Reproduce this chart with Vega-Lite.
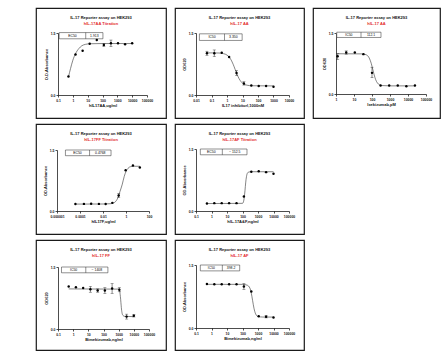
{
  "$schema": "https://vega.github.io/schema/vega-lite/v6.json",
  "background": "white",
  "padding": {"left": 35, "top": 7, "right": 4, "bottom": 4},
  "config": {
    "font": "Liberation Sans",
    "view": {"stroke": "#1a1a1a", "strokeWidth": 1.2, "fill": "white"},
    "axis": {"grid": false, "domainColor": "#000", "domainWidth": 0.7, "tickColor": "#000", "tickWidth": 0.7, "tickSize": 2, "labelFontSize": 3.4, "labelFontWeight": "bold", "labelColor": "#111", "labelPadding": 1, "titleFontSize": 4, "titleFontWeight": "bold", "titleColor": "#111", "titlePadding": 2, "labelFlush": false, "labelOverlap": false},
    "title": {"fontSize": 4, "subtitleFontSize": 4, "fontWeight": "bold", "subtitleFontWeight": "bold", "color": "#111", "subtitleColor": "#e32b2b", "anchor": "middle", "frame": "group", "offset": -18, "subtitlePadding": 2.5},
    "text": {"fontSize": 3.4, "font": "Liberation Sans"}
  },
  "vconcat": [
    {"hconcat": [
      {"width": 130, "height": 110,
       "title": {"text": "IL-17 Reporter assay on HEK293", "subtitle": "hIL-17AA Titration"},
       "layer": [
        {"data": {"values": [{}]}, "mark": {"type": "rect", "fill": "white", "stroke": "#222", "strokeWidth": 0.5}, "encoding": {"x": {"datum": 0.12, "type": "quantitative"}, "x2": {"datum": 107}, "y": {"datum": 1.36, "type": "quantitative"}, "y2": {"datum": 1.51}}},
        {"data": {"values": [{}]}, "mark": {"type": "rule", "stroke": "#222", "strokeWidth": 0.5}, "encoding": {"x": {"datum": 7.4, "type": "quantitative"}, "y": {"datum": 1.36, "type": "quantitative"}, "y2": {"datum": 1.51}}},
        {"data": {"values": [{}]}, "mark": {"type": "text", "text": "EC50", "baseline": "middle"}, "encoding": {"x": {"datum": 0.94, "type": "quantitative"}, "y": {"datum": 1.435, "type": "quantitative"}}},
        {"data": {"values": [{}]}, "mark": {"type": "text", "text": "1.913", "baseline": "middle"}, "encoding": {"x": {"datum": 28, "type": "quantitative"}, "y": {"datum": 1.435, "type": "quantitative"}}},
        {"data": {"values": [{"x":0.508,"y":0.44},{"x":0.7,"y":0.64},{"x":1,"y":0.84},{"x":1.52,"y":1.0},{"x":2.5,"y":1.12},{"x":4,"y":1.19},{"x":7,"y":1.225},{"x":15,"y":1.24},{"x":100,"y":1.245},{"x":10000,"y":1.245}]},
         "mark": {"type": "line", "color": "#333", "strokeWidth": 0.6, "interpolate": "monotone"}, "encoding": {"x": {"field": "x", "type": "quantitative"}, "y": {"field": "y", "type": "quantitative"}}},
        {"data": {"values": [{"x":123,"lo":1.18,"hi":1.24},{"x":370,"lo":1.17,"hi":1.33}]},
         "layer": [
          {"mark": {"type": "rule", "color": "#111", "strokeWidth": 0.5}, "encoding": {"x": {"field": "x", "type": "quantitative"}, "y": {"field": "lo", "type": "quantitative"}, "y2": {"field": "hi"}}},
          {"mark": {"type": "tick", "orient": "horizontal", "size": 3, "thickness": 0.5, "color": "#111"}, "encoding": {"x": {"field": "x", "type": "quantitative"}, "y": {"field": "lo", "type": "quantitative"}}},
          {"mark": {"type": "tick", "orient": "horizontal", "size": 3, "thickness": 0.5, "color": "#111"}, "encoding": {"x": {"field": "x", "type": "quantitative"}, "y": {"field": "hi", "type": "quantitative"}}}
         ]},
        {"data": {"values": [{"x":0.508,"y":0.45},{"x":1.52,"y":0.98},{"x":4.57,"y":1.07},{"x":13.7,"y":1.24},{"x":41.2,"y":1.33},{"x":123,"y":1.21},{"x":370,"y":1.25},{"x":1111,"y":1.25},{"x":3333,"y":1.23},{"x":10000,"y":1.25}]},
         "mark": {"type": "circle", "color": "#000", "size": 6, "opacity": 1},
         "encoding": {
          "x": {"field": "x", "type": "quantitative", "scale": {"type": "log", "domain": [0.1, 100000], "range": [22, 111], "nice": false}, "axis": {"values": [0.1,1,10,100,1000,10000,100000], "format": ".6~f", "title": "hIL17AA,ug/ml", "offset": -23}},
          "y": {"field": "y", "type": "quantitative", "scale": {"domain": [0, 1.5], "range": [87, 25], "nice": false, "zero": false}, "axis": {"values": [0,0.5,1,1.5], "format": ".1f", "title": "O.D.Absorbance", "offset": -22}}}}
       ]},
      {"width": 129, "height": 110,
       "title": {"text": "IL-17 Reporter assay on HEK293", "subtitle": "hIL-17 AA"},
       "layer": [
        {"data": {"values": [{}]}, "mark": {"type": "rect", "fill": "white", "stroke": "#222", "strokeWidth": 0.5}, "encoding": {"x": {"datum": 0.0166, "type": "quantitative"}, "x2": {"datum": 9.5}, "y": {"datum": 1.32, "type": "quantitative"}, "y2": {"datum": 1.48}}},
        {"data": {"values": [{}]}, "mark": {"type": "rule", "stroke": "#222", "strokeWidth": 0.5}, "encoding": {"x": {"datum": 0.69, "type": "quantitative"}, "y": {"datum": 1.32, "type": "quantitative"}, "y2": {"datum": 1.48}}},
        {"data": {"values": [{}]}, "mark": {"type": "text", "text": "IC50", "baseline": "middle"}, "encoding": {"x": {"datum": 0.107, "type": "quantitative"}, "y": {"datum": 1.4, "type": "quantitative"}}},
        {"data": {"values": [{}]}, "mark": {"type": "text", "text": "3.350", "baseline": "middle"}, "encoding": {"x": {"datum": 2.56, "type": "quantitative"}, "y": {"datum": 1.4, "type": "quantitative"}}},
        {"data": {"values": [{"x":0.0508,"y":1.02},{"x":0.3,"y":1.016},{"x":0.6,"y":1.0},{"x":1,"y":0.966},{"x":1.5,"y":0.9},{"x":2,"y":0.823},{"x":2.5,"y":0.743},{"x":3.35,"y":0.62},{"x":4,"y":0.544},{"x":5,"y":0.456},{"x":6,"y":0.396},{"x":8,"y":0.325},{"x":10,"y":0.288},{"x":15,"y":0.25},{"x":20,"y":0.236},{"x":40,"y":0.224},{"x":1000,"y":0.22}]},
         "mark": {"type": "line", "color": "#333", "strokeWidth": 0.6, "interpolate": "monotone"}, "encoding": {"x": {"field": "x", "type": "quantitative"}, "y": {"field": "y", "type": "quantitative"}}},
        {"data": {"values": [{"x":0.0508,"lo":0.96,"hi":1.06},{"x":0.152,"lo":0.93,"hi":1.09},{"x":4.12,"lo":0.47,"hi":0.59},{"x":12.3,"lo":0.24,"hi":0.32}]},
         "layer": [
          {"mark": {"type": "rule", "color": "#111", "strokeWidth": 0.5}, "encoding": {"x": {"field": "x", "type": "quantitative"}, "y": {"field": "lo", "type": "quantitative"}, "y2": {"field": "hi"}}},
          {"mark": {"type": "tick", "orient": "horizontal", "size": 3, "thickness": 0.5, "color": "#111"}, "encoding": {"x": {"field": "x", "type": "quantitative"}, "y": {"field": "lo", "type": "quantitative"}}},
          {"mark": {"type": "tick", "orient": "horizontal", "size": 3, "thickness": 0.5, "color": "#111"}, "encoding": {"x": {"field": "x", "type": "quantitative"}, "y": {"field": "hi", "type": "quantitative"}}}
         ]},
        {"data": {"values": [{"x":0.0508,"y":1.01},{"x":0.152,"y":1.01},{"x":0.457,"y":1.02},{"x":1.37,"y":0.92},{"x":4.12,"y":0.53},{"x":12.3,"y":0.28},{"x":37,"y":0.23},{"x":111,"y":0.22},{"x":333,"y":0.22},{"x":1000,"y":0.2}]},
         "mark": {"type": "circle", "color": "#000", "size": 6, "opacity": 1},
         "encoding": {
          "x": {"field": "x", "type": "quantitative", "scale": {"type": "log", "domain": [0.01, 10000], "range": [21, 114], "nice": false}, "axis": {"values": [0.01,0.1,1,10,100,1000,10000], "format": ".6~f", "title": "IL17 inhibitorl,1000nM", "offset": -23}},
          "y": {"field": "y", "type": "quantitative", "scale": {"domain": [0, 1.5], "range": [87, 25], "nice": false, "zero": false}, "axis": {"values": [0,0.5,1,1.5], "format": ".1f", "title": "OD620", "offset": -21}}}}
       ]},
      {"width": 127, "height": 110,
       "title": {"text": "IL-17 Reporter assay on HEK293", "subtitle": "hIL-17 AA"},
       "layer": [
        {"data": {"values": [{}]}, "mark": {"type": "rect", "fill": "white", "stroke": "#222", "strokeWidth": 0.5}, "encoding": {"x": {"datum": 1.1, "type": "quantitative"}, "x2": {"datum": 316}, "y": {"datum": 1.39, "type": "quantitative"}, "y2": {"datum": 1.52}}},
        {"data": {"values": [{}]}, "mark": {"type": "rule", "stroke": "#222", "strokeWidth": 0.5}, "encoding": {"x": {"datum": 24.5, "type": "quantitative"}, "y": {"datum": 1.39, "type": "quantitative"}, "y2": {"datum": 1.52}}},
        {"data": {"values": [{}]}, "mark": {"type": "text", "text": "IC50", "baseline": "middle"}, "encoding": {"x": {"datum": 5.2, "type": "quantitative"}, "y": {"datum": 1.455, "type": "quantitative"}}},
        {"data": {"values": [{}]}, "mark": {"type": "text", "text": "112.1", "baseline": "middle"}, "encoding": {"x": {"datum": 88, "type": "quantitative"}, "y": {"datum": 1.455, "type": "quantitative"}}},
        {"data": {"values": [{"x":1.23,"y":0.99},{"x":30,"y":0.986},{"x":50,"y":0.96},{"x":70,"y":0.886},{"x":90,"y":0.758},{"x":112,"y":0.595},{"x":130,"y":0.481},{"x":160,"y":0.353},{"x":200,"y":0.271},{"x":250,"y":0.231},{"x":350,"y":0.208},{"x":1000,"y":0.2},{"x":24300,"y":0.2}]},
         "mark": {"type": "line", "color": "#333", "strokeWidth": 0.6, "interpolate": "monotone"}, "encoding": {"x": {"field": "x", "type": "quantitative"}, "y": {"field": "y", "type": "quantitative"}}},
        {"data": {"values": [{"x":1.23,"lo":0.85,"hi":1.0},{"x":3.7,"lo":0.98,"hi":1.06},{"x":100,"lo":0.4,"hi":0.66}]},
         "layer": [
          {"mark": {"type": "rule", "color": "#111", "strokeWidth": 0.5}, "encoding": {"x": {"field": "x", "type": "quantitative"}, "y": {"field": "lo", "type": "quantitative"}, "y2": {"field": "hi"}}},
          {"mark": {"type": "tick", "orient": "horizontal", "size": 3, "thickness": 0.5, "color": "#111"}, "encoding": {"x": {"field": "x", "type": "quantitative"}, "y": {"field": "lo", "type": "quantitative"}}},
          {"mark": {"type": "tick", "orient": "horizontal", "size": 3, "thickness": 0.5, "color": "#111"}, "encoding": {"x": {"field": "x", "type": "quantitative"}, "y": {"field": "hi", "type": "quantitative"}}}
         ]},
        {"data": {"values": [{"x":1.23,"y":0.93},{"x":3.7,"y":1.02},{"x":11.1,"y":1.02},{"x":33.3,"y":0.98},{"x":100,"y":0.52},{"x":300,"y":0.21},{"x":900,"y":0.21},{"x":2700,"y":0.21},{"x":8100,"y":0.19},{"x":24300,"y":0.21}]},
         "mark": {"type": "circle", "color": "#000", "size": 6, "opacity": 1},
         "encoding": {
          "x": {"field": "x", "type": "quantitative", "scale": {"type": "log", "domain": [1, 100000], "range": [23, 113], "nice": false}, "axis": {"values": [1,10,100,1000,10000,100000], "format": ".6~f", "title": "Ixekizumab,pM", "offset": -24}},
          "y": {"field": "y", "type": "quantitative", "scale": {"domain": [0, 1.5], "range": [86, 25], "nice": false, "zero": false}, "axis": {"values": [0,0.5,1,1.5], "format": ".1f", "title": "OD620", "offset": -23}}}}
       ]}
    ], "spacing": 7},
    {"hconcat": [
      {"width": 130, "height": 110,
       "title": {"text": "IL-17 Reporter assay on HEK293", "subtitle": "hIL-17FF Titration"},
       "layer": [
        {"data": {"values": [{}]}, "mark": {"type": "rect", "fill": "white", "stroke": "#222", "strokeWidth": 0.5}, "encoding": {"x": {"datum": 0.0000054, "type": "quantitative"}, "x2": {"datum": 0.05}, "y": {"datum": 1.36, "type": "quantitative"}, "y2": {"datum": 1.5}}},
        {"data": {"values": [{}]}, "mark": {"type": "rule", "stroke": "#222", "strokeWidth": 0.5}, "encoding": {"x": {"datum": 0.00068, "type": "quantitative"}, "y": {"datum": 1.36, "type": "quantitative"}, "y2": {"datum": 1.5}}},
        {"data": {"values": [{}]}, "mark": {"type": "text", "text": "EC50", "baseline": "middle"}, "encoding": {"x": {"datum": 0.0000606, "type": "quantitative"}, "y": {"datum": 1.43, "type": "quantitative"}}},
        {"data": {"values": [{}]}, "mark": {"type": "text", "text": "0.4768", "baseline": "middle"}, "encoding": {"x": {"datum": 0.00583, "type": "quantitative"}, "y": {"datum": 1.43, "type": "quantitative"}}},
        {"data": {"values": [{"x":0.00004,"y":0.17},{"x":0.01,"y":0.172},{"x":0.05,"y":0.18},{"x":0.1,"y":0.21},{"x":0.2,"y":0.33},{"x":0.3,"y":0.48},{"x":0.4768,"y":0.66},{"x":0.7,"y":0.85},{"x":1,"y":0.97},{"x":1.5,"y":1.05},{"x":2.5,"y":1.09},{"x":5,"y":1.1},{"x":16,"y":1.1}]},
         "mark": {"type": "line", "color": "#333", "strokeWidth": 0.6, "interpolate": "monotone"}, "encoding": {"x": {"field": "x", "type": "quantitative"}, "y": {"field": "y", "type": "quantitative"}}},
        {"data": {"values": [{"x":0.23,"lo":0.33,"hi":0.43}]},
         "layer": [
          {"mark": {"type": "rule", "color": "#111", "strokeWidth": 0.5}, "encoding": {"x": {"field": "x", "type": "quantitative"}, "y": {"field": "lo", "type": "quantitative"}, "y2": {"field": "hi"}}},
          {"mark": {"type": "tick", "orient": "horizontal", "size": 3, "thickness": 0.5, "color": "#111"}, "encoding": {"x": {"field": "x", "type": "quantitative"}, "y": {"field": "lo", "type": "quantitative"}}},
          {"mark": {"type": "tick", "orient": "horizontal", "size": 3, "thickness": 0.5, "color": "#111"}, "encoding": {"x": {"field": "x", "type": "quantitative"}, "y": {"field": "hi", "type": "quantitative"}}}
         ]},
        {"data": {"values": [{"x":0.00004,"y":0.17},{"x":0.00022,"y":0.175},{"x":0.00093,"y":0.18},{"x":0.0044,"y":0.175},{"x":0.017,"y":0.17},{"x":0.065,"y":0.2},{"x":0.23,"y":0.38},{"x":0.93,"y":1.0},{"x":4,"y":1.12},{"x":16,"y":1.07}]},
         "mark": {"type": "circle", "color": "#000", "size": 6, "opacity": 1},
         "encoding": {
          "x": {"field": "x", "type": "quantitative", "scale": {"type": "log", "domain": [0.000001, 100], "range": [21, 113], "nice": false}, "axis": {"values": [0.000001,0.0001,0.01,1,100], "format": ".6~f", "title": "hIL17F,ug/ml", "offset": -23}},
          "y": {"field": "y", "type": "quantitative", "scale": {"domain": [0, 1.5], "range": [87, 26], "nice": false, "zero": false}, "axis": {"values": [0,0.5,1,1.5], "format": ".1f", "title": "OD.Absorbance", "offset": -21}}}}
       ]},
      {"width": 129, "height": 110,
       "title": {"text": "IL-17 Reporter assay on HEK293", "subtitle": "hIL-17AF Titration"},
       "layer": [
        {"data": {"values": [{}]}, "mark": {"type": "rect", "fill": "white", "stroke": "#222", "strokeWidth": 0.5}, "encoding": {"x": {"datum": 0.19, "type": "quantitative"}, "x2": {"datum": 195}, "y": {"datum": 1.36, "type": "quantitative"}, "y2": {"datum": 1.5}}},
        {"data": {"values": [{}]}, "mark": {"type": "rule", "stroke": "#222", "strokeWidth": 0.5}, "encoding": {"x": {"datum": 5, "type": "quantitative"}, "y": {"datum": 1.36, "type": "quantitative"}, "y2": {"datum": 1.5}}},
        {"data": {"values": [{}]}, "mark": {"type": "text", "text": "EC50", "baseline": "middle"}, "encoding": {"x": {"datum": 0.975, "type": "quantitative"}, "y": {"datum": 1.43, "type": "quantitative"}}},
        {"data": {"values": [{}]}, "mark": {"type": "text", "text": "~ 152.5", "baseline": "middle"}, "encoding": {"x": {"datum": 31.2, "type": "quantitative"}, "y": {"datum": 1.43, "type": "quantitative"}}},
        {"data": {"values": [{"x":0.508,"y":0.18},{"x":100,"y":0.185},{"x":115,"y":0.22},{"x":130,"y":0.33},{"x":145,"y":0.5},{"x":160,"y":0.68},{"x":180,"y":0.83},{"x":210,"y":0.92},{"x":260,"y":0.945},{"x":400,"y":0.95},{"x":10000,"y":0.95}]},
         "mark": {"type": "line", "color": "#333", "strokeWidth": 0.6, "interpolate": "monotone"}, "encoding": {"x": {"field": "x", "type": "quantitative"}, "y": {"field": "y", "type": "quantitative"}}},
        {"data": {"values": [{"x":0.508,"y":0.18},{"x":1.52,"y":0.19},{"x":4.57,"y":0.19},{"x":13.7,"y":0.19},{"x":41.2,"y":0.19},{"x":123,"y":0.35},{"x":370,"y":0.95},{"x":1111,"y":0.96},{"x":3333,"y":0.94},{"x":10000,"y":0.9}]},
         "mark": {"type": "circle", "color": "#000", "size": 6, "opacity": 1},
         "encoding": {
          "x": {"field": "x", "type": "quantitative", "scale": {"type": "log", "domain": [0.1, 100000], "range": [21, 114], "nice": false}, "axis": {"values": [0.1,1,10,100,1000,10000,100000], "format": ".6~f", "title": "hIL-17A&F,ng/ml", "offset": -23}},
          "y": {"field": "y", "type": "quantitative", "scale": {"domain": [0, 1.5], "range": [87, 25], "nice": false, "zero": false}, "axis": {"values": [0,0.5,1,1.5], "format": ".1f", "title": "OD.Absorbance", "offset": -21}}}}
       ]}
    ], "spacing": 7},
    {"hconcat": [
      {"width": 130, "height": 110,
       "title": {"text": "IL-17 Reporter assay on HEK293", "subtitle": "hIL-17 FF"},
       "layer": [
        {"data": {"values": [{}]}, "mark": {"type": "rect", "fill": "white", "stroke": "#222", "strokeWidth": 0.5}, "encoding": {"x": {"datum": 0.17, "type": "quantitative"}, "x2": {"datum": 195}, "y": {"datum": 1.36, "type": "quantitative"}, "y2": {"datum": 1.5}}},
        {"data": {"values": [{}]}, "mark": {"type": "rule", "stroke": "#222", "strokeWidth": 0.5}, "encoding": {"x": {"datum": 6.8, "type": "quantitative"}, "y": {"datum": 1.36, "type": "quantitative"}, "y2": {"datum": 1.5}}},
        {"data": {"values": [{}]}, "mark": {"type": "text", "text": "IC50", "baseline": "middle"}, "encoding": {"x": {"datum": 1.08, "type": "quantitative"}, "y": {"datum": 1.43, "type": "quantitative"}}},
        {"data": {"values": [{}]}, "mark": {"type": "text", "text": "~ 1408", "baseline": "middle"}, "encoding": {"x": {"datum": 36.4, "type": "quantitative"}, "y": {"datum": 1.43, "type": "quantitative"}}},
        {"data": {"values": [{"x":0.508,"y":0.97},{"x":1000,"y":0.965},{"x":1150,"y":0.93},{"x":1250,"y":0.84},{"x":1350,"y":0.72},{"x":1408,"y":0.64},{"x":1500,"y":0.52},{"x":1650,"y":0.4},{"x":1900,"y":0.33},{"x":2500,"y":0.305},{"x":10000,"y":0.3}]},
         "mark": {"type": "line", "color": "#333", "strokeWidth": 0.6, "interpolate": "monotone"}, "encoding": {"x": {"field": "x", "type": "quantitative"}, "y": {"field": "y", "type": "quantitative"}}},
        {"data": {"values": [{"x":13.7,"lo":0.89,"hi":1.03},{"x":41.2,"lo":0.89,"hi":0.97},{"x":123,"lo":0.86,"hi":1.0},{"x":370,"lo":0.86,"hi":1.1},{"x":1111,"lo":0.9,"hi":1.0},{"x":3333,"lo":0.24,"hi":0.36},{"x":10000,"lo":0.29,"hi":0.35}]},
         "layer": [
          {"mark": {"type": "rule", "color": "#111", "strokeWidth": 0.5}, "encoding": {"x": {"field": "x", "type": "quantitative"}, "y": {"field": "lo", "type": "quantitative"}, "y2": {"field": "hi"}}},
          {"mark": {"type": "tick", "orient": "horizontal", "size": 3, "thickness": 0.5, "color": "#111"}, "encoding": {"x": {"field": "x", "type": "quantitative"}, "y": {"field": "lo", "type": "quantitative"}}},
          {"mark": {"type": "tick", "orient": "horizontal", "size": 3, "thickness": 0.5, "color": "#111"}, "encoding": {"x": {"field": "x", "type": "quantitative"}, "y": {"field": "hi", "type": "quantitative"}}}
         ]},
        {"data": {"values": [{"x":0.508,"y":1.03},{"x":1.52,"y":1.01},{"x":4.57,"y":0.99},{"x":13.7,"y":0.96},{"x":41.2,"y":0.93},{"x":123,"y":0.93},{"x":370,"y":0.98},{"x":1111,"y":0.95},{"x":3333,"y":0.3},{"x":10000,"y":0.32}]},
         "mark": {"type": "circle", "color": "#000", "size": 6, "opacity": 1},
         "encoding": {
          "x": {"field": "x", "type": "quantitative", "scale": {"type": "log", "domain": [0.1, 100000], "range": [22, 113], "nice": false}, "axis": {"values": [0.1,1,10,100,1000,10000,100000], "format": ".6~f", "title": "Bimekizumab,ng/ml", "offset": -21}},
          "y": {"field": "y", "type": "quantitative", "scale": {"domain": [0, 1.5], "range": [89, 27], "nice": false, "zero": false}, "axis": {"values": [0,0.5,1,1.5], "format": ".1f", "title": "OD620", "offset": -22}}}}
       ]},
      {"width": 129, "height": 110,
       "title": {"text": "IL-17 Reporter assay on HEK293", "subtitle": "hIL-17 AF"},
       "layer": [
        {"data": {"values": [{}]}, "mark": {"type": "rect", "fill": "white", "stroke": "#222", "strokeWidth": 0.5}, "encoding": {"x": {"datum": 0.19, "type": "quantitative"}, "x2": {"datum": 66}, "y": {"datum": 1.36, "type": "quantitative"}, "y2": {"datum": 1.5}}},
        {"data": {"values": [{}]}, "mark": {"type": "rule", "stroke": "#222", "strokeWidth": 0.5}, "encoding": {"x": {"datum": 5, "type": "quantitative"}, "y": {"datum": 1.36, "type": "quantitative"}, "y2": {"datum": 1.5}}},
        {"data": {"values": [{}]}, "mark": {"type": "text", "text": "IC50", "baseline": "middle"}, "encoding": {"x": {"datum": 0.975, "type": "quantitative"}, "y": {"datum": 1.43, "type": "quantitative"}}},
        {"data": {"values": [{}]}, "mark": {"type": "text", "text": "398.2", "baseline": "middle"}, "encoding": {"x": {"datum": 18.2, "type": "quantitative"}, "y": {"datum": 1.43, "type": "quantitative"}}},
        {"data": {"values": [{"x":0.508,"y":1.04},{"x":100,"y":1.039},{"x":200,"y":1.02},{"x":300,"y":0.95},{"x":370,"y":0.83},{"x":450,"y":0.65},{"x":550,"y":0.47},{"x":700,"y":0.337},{"x":1000,"y":0.274},{"x":2000,"y":0.261},{"x":10000,"y":0.26}]},
         "mark": {"type": "line", "color": "#333", "strokeWidth": 0.6, "interpolate": "monotone"}, "encoding": {"x": {"field": "x", "type": "quantitative"}, "y": {"field": "y", "type": "quantitative"}}},
        {"data": {"values": [{"x":123,"lo":0.92,"hi":1.06},{"x":3333,"lo":0.24,"hi":0.3}]},
         "layer": [
          {"mark": {"type": "rule", "color": "#111", "strokeWidth": 0.5}, "encoding": {"x": {"field": "x", "type": "quantitative"}, "y": {"field": "lo", "type": "quantitative"}, "y2": {"field": "hi"}}},
          {"mark": {"type": "tick", "orient": "horizontal", "size": 3, "thickness": 0.5, "color": "#111"}, "encoding": {"x": {"field": "x", "type": "quantitative"}, "y": {"field": "lo", "type": "quantitative"}}},
          {"mark": {"type": "tick", "orient": "horizontal", "size": 3, "thickness": 0.5, "color": "#111"}, "encoding": {"x": {"field": "x", "type": "quantitative"}, "y": {"field": "hi", "type": "quantitative"}}}
         ]},
        {"data": {"values": [{"x":0.508,"y":1.05},{"x":1.52,"y":1.04},{"x":4.57,"y":1.04},{"x":13.7,"y":1.04},{"x":41.2,"y":1.04},{"x":123,"y":0.99},{"x":370,"y":0.87},{"x":1111,"y":0.28},{"x":3333,"y":0.27},{"x":10000,"y":0.25}]},
         "mark": {"type": "circle", "color": "#000", "size": 6, "opacity": 1},
         "encoding": {
          "x": {"field": "x", "type": "quantitative", "scale": {"type": "log", "domain": [0.1, 100000], "range": [21, 114], "nice": false}, "axis": {"values": [0.1,1,10,100,1000,10000,100000], "format": ".6~f", "title": "Bimekizumab,ng/ml", "offset": -22}},
          "y": {"field": "y", "type": "quantitative", "scale": {"domain": [0, 1.5], "range": [88, 25], "nice": false, "zero": false}, "axis": {"values": [0,0.5,1,1.5], "format": ".1f", "title": "OD.Absorbance", "offset": -21}}}}
       ]}
    ], "spacing": 7}
  ],
  "spacing": 4
}
